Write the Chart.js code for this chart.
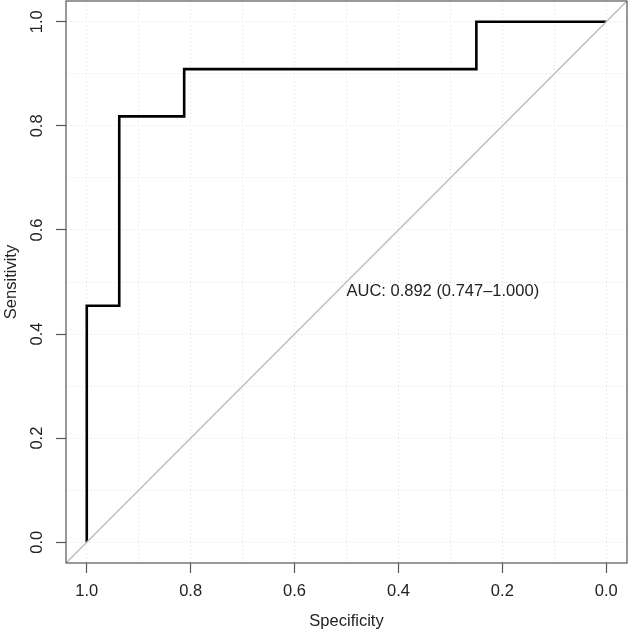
<!DOCTYPE html>
<html>
<head>
<meta charset="utf-8">
<script src="https://cdn.jsdelivr.net/npm/chart.js@4.4.1/dist/chart.umd.min.js"></script>
<style>
  html, body { margin: 0; padding: 0; background: #fff; }
  #wrap { width: 629px; height: 632px; }
</style>
</head>
<body>
<div id="wrap"><canvas id="roc"></canvas></div>
<script>
// ROC curve points (specificity, sensitivity)
var specificity = [1.0, 1.0, 0.9375, 0.9375, 0.8125, 0.8125, 0.25, 0.25, 0.0];
var sensitivity = [0.0, 0.4545, 0.4545, 0.8182, 0.8182, 0.9091, 0.9091, 1.0, 1.0];
var gridValues = [0, 0.1, 0.2, 0.3, 0.4, 0.5, 0.6, 0.7, 0.8, 0.9, 1.0];
var tickValues = [0, 0.2, 0.4, 0.6, 0.8, 1.0];
var aucLabel = 'AUC: 0.892 (0.747\u20131.000)';
var aucPos = [0.5, 0.5];
var axisMin = -0.04, axisMax = 1.04;

var FONT = '"Liberation Sans", Arial, Helvetica, sans-serif';
var FSIZE = 16.5;
var textCol = '#222';

function isMajor(v) {
    return tickValues.some(function (t) { return Math.abs(t - v) < 1e-9; });
}

var boxAndText = {
    id: 'boxAndText',
    afterDraw: function (chart) {
        var ctx = chart.ctx, a = chart.chartArea;
        var xs = chart.scales.x, ys = chart.scales.y;
        ctx.save();
        ctx.strokeStyle = '#555';
        ctx.lineWidth = 1.2;
        ctx.strokeRect(a.left, a.top, a.right - a.left, a.bottom - a.top);

        // y tick labels, rotated like R (las = 0)
        ctx.fillStyle = textCol;
        ctx.font = FSIZE + 'px ' + FONT;
        ctx.textAlign = 'center';
        ctx.textBaseline = 'middle';
        tickValues.forEach(function (v) {
            ctx.save();
            ctx.translate(a.left - 29, ys.getPixelForValue(v));
            ctx.rotate(-Math.PI / 2);
            ctx.fillText(v.toFixed(1), 0, 0);
            ctx.restore();
        });

        // AUC text
        ctx.textAlign = 'left';
        ctx.textBaseline = 'top';
        ctx.fillText(aucLabel, xs.getPixelForValue(aucPos[0]), ys.getPixelForValue(aucPos[1]) + 1);
        ctx.restore();
    }
};

function setGridTicks(scale) {
    scale.ticks = gridValues.map(function (v) { return { value: v }; });
}

new Chart(document.getElementById('roc'), {
    type: 'scatter',
    data: {
        datasets: [
            {
                label: 'diagonal',
                data: [
                    { x: axisMax, y: 1 - axisMax },
                    { x: axisMin, y: 1 - axisMin }
                ],
                showLine: true,
                borderColor: '#bdbdbd',
                borderWidth: 1.5,
                pointRadius: 0
            },
            {
                label: 'ROC',
                data: specificity.map(function (s, i) { return { x: s, y: sensitivity[i] }; }),
                showLine: true,
                borderColor: '#000',
                borderWidth: 2.6,
                pointRadius: 0,
                borderJoinStyle: 'miter'
            }
        ]
    },
    options: {
        responsive: true,
        maintainAspectRatio: false,
        animation: false,
        events: [],
        layout: { padding: { top: 1, right: 2, left: 0, bottom: 0 } },
        plugins: {
            legend: { display: false },
            tooltip: { enabled: false }
        },
        scales: {
            x: {
                type: 'linear',
                reverse: true,
                min: axisMin,
                max: axisMax,
                afterBuildTicks: setGridTicks,
                afterFit: function (scale) { scale.height = 69; },
                border: { display: false, dash: [1, 3] },
                grid: {
                    color: '#dedede',
                    lineWidth: 1,
                    tickLength: 10,
                    tickWidth: 1.2,
                    tickColor: function (c) { return c.tick && isMajor(c.tick.value) ? '#555' : 'rgba(0,0,0,0)'; }
                },
                ticks: {
                    padding: 9,
                    color: textCol,
                    font: { family: FONT, size: FSIZE },
                    maxRotation: 0,
                    autoSkip: false,
                    callback: function (v) { return isMajor(v) ? v.toFixed(1) : ''; }
                },
                title: {
                    display: true,
                    text: 'Specificity',
                    color: textCol,
                    font: { family: FONT, size: FSIZE },
                    padding: { top: 0, bottom: 1 }
                }
            },
            y: {
                type: 'linear',
                min: axisMin,
                max: axisMax,
                afterBuildTicks: setGridTicks,
                afterFit: function (scale) { scale.width = 66; },
                border: { display: false, dash: [1, 3] },
                grid: {
                    color: '#dedede',
                    lineWidth: 1,
                    tickLength: 10,
                    tickWidth: 1.2,
                    tickColor: function (c) { return c.tick && isMajor(c.tick.value) ? '#555' : 'rgba(0,0,0,0)'; }
                },
                ticks: { display: false },
                title: {
                    display: true,
                    text: 'Sensitivity',
                    color: textCol,
                    font: { family: FONT, size: FSIZE },
                    padding: { top: 2, bottom: 0 }
                }
            }
        }
    },
    plugins: [boxAndText]
});
</script>
</body>
</html>
